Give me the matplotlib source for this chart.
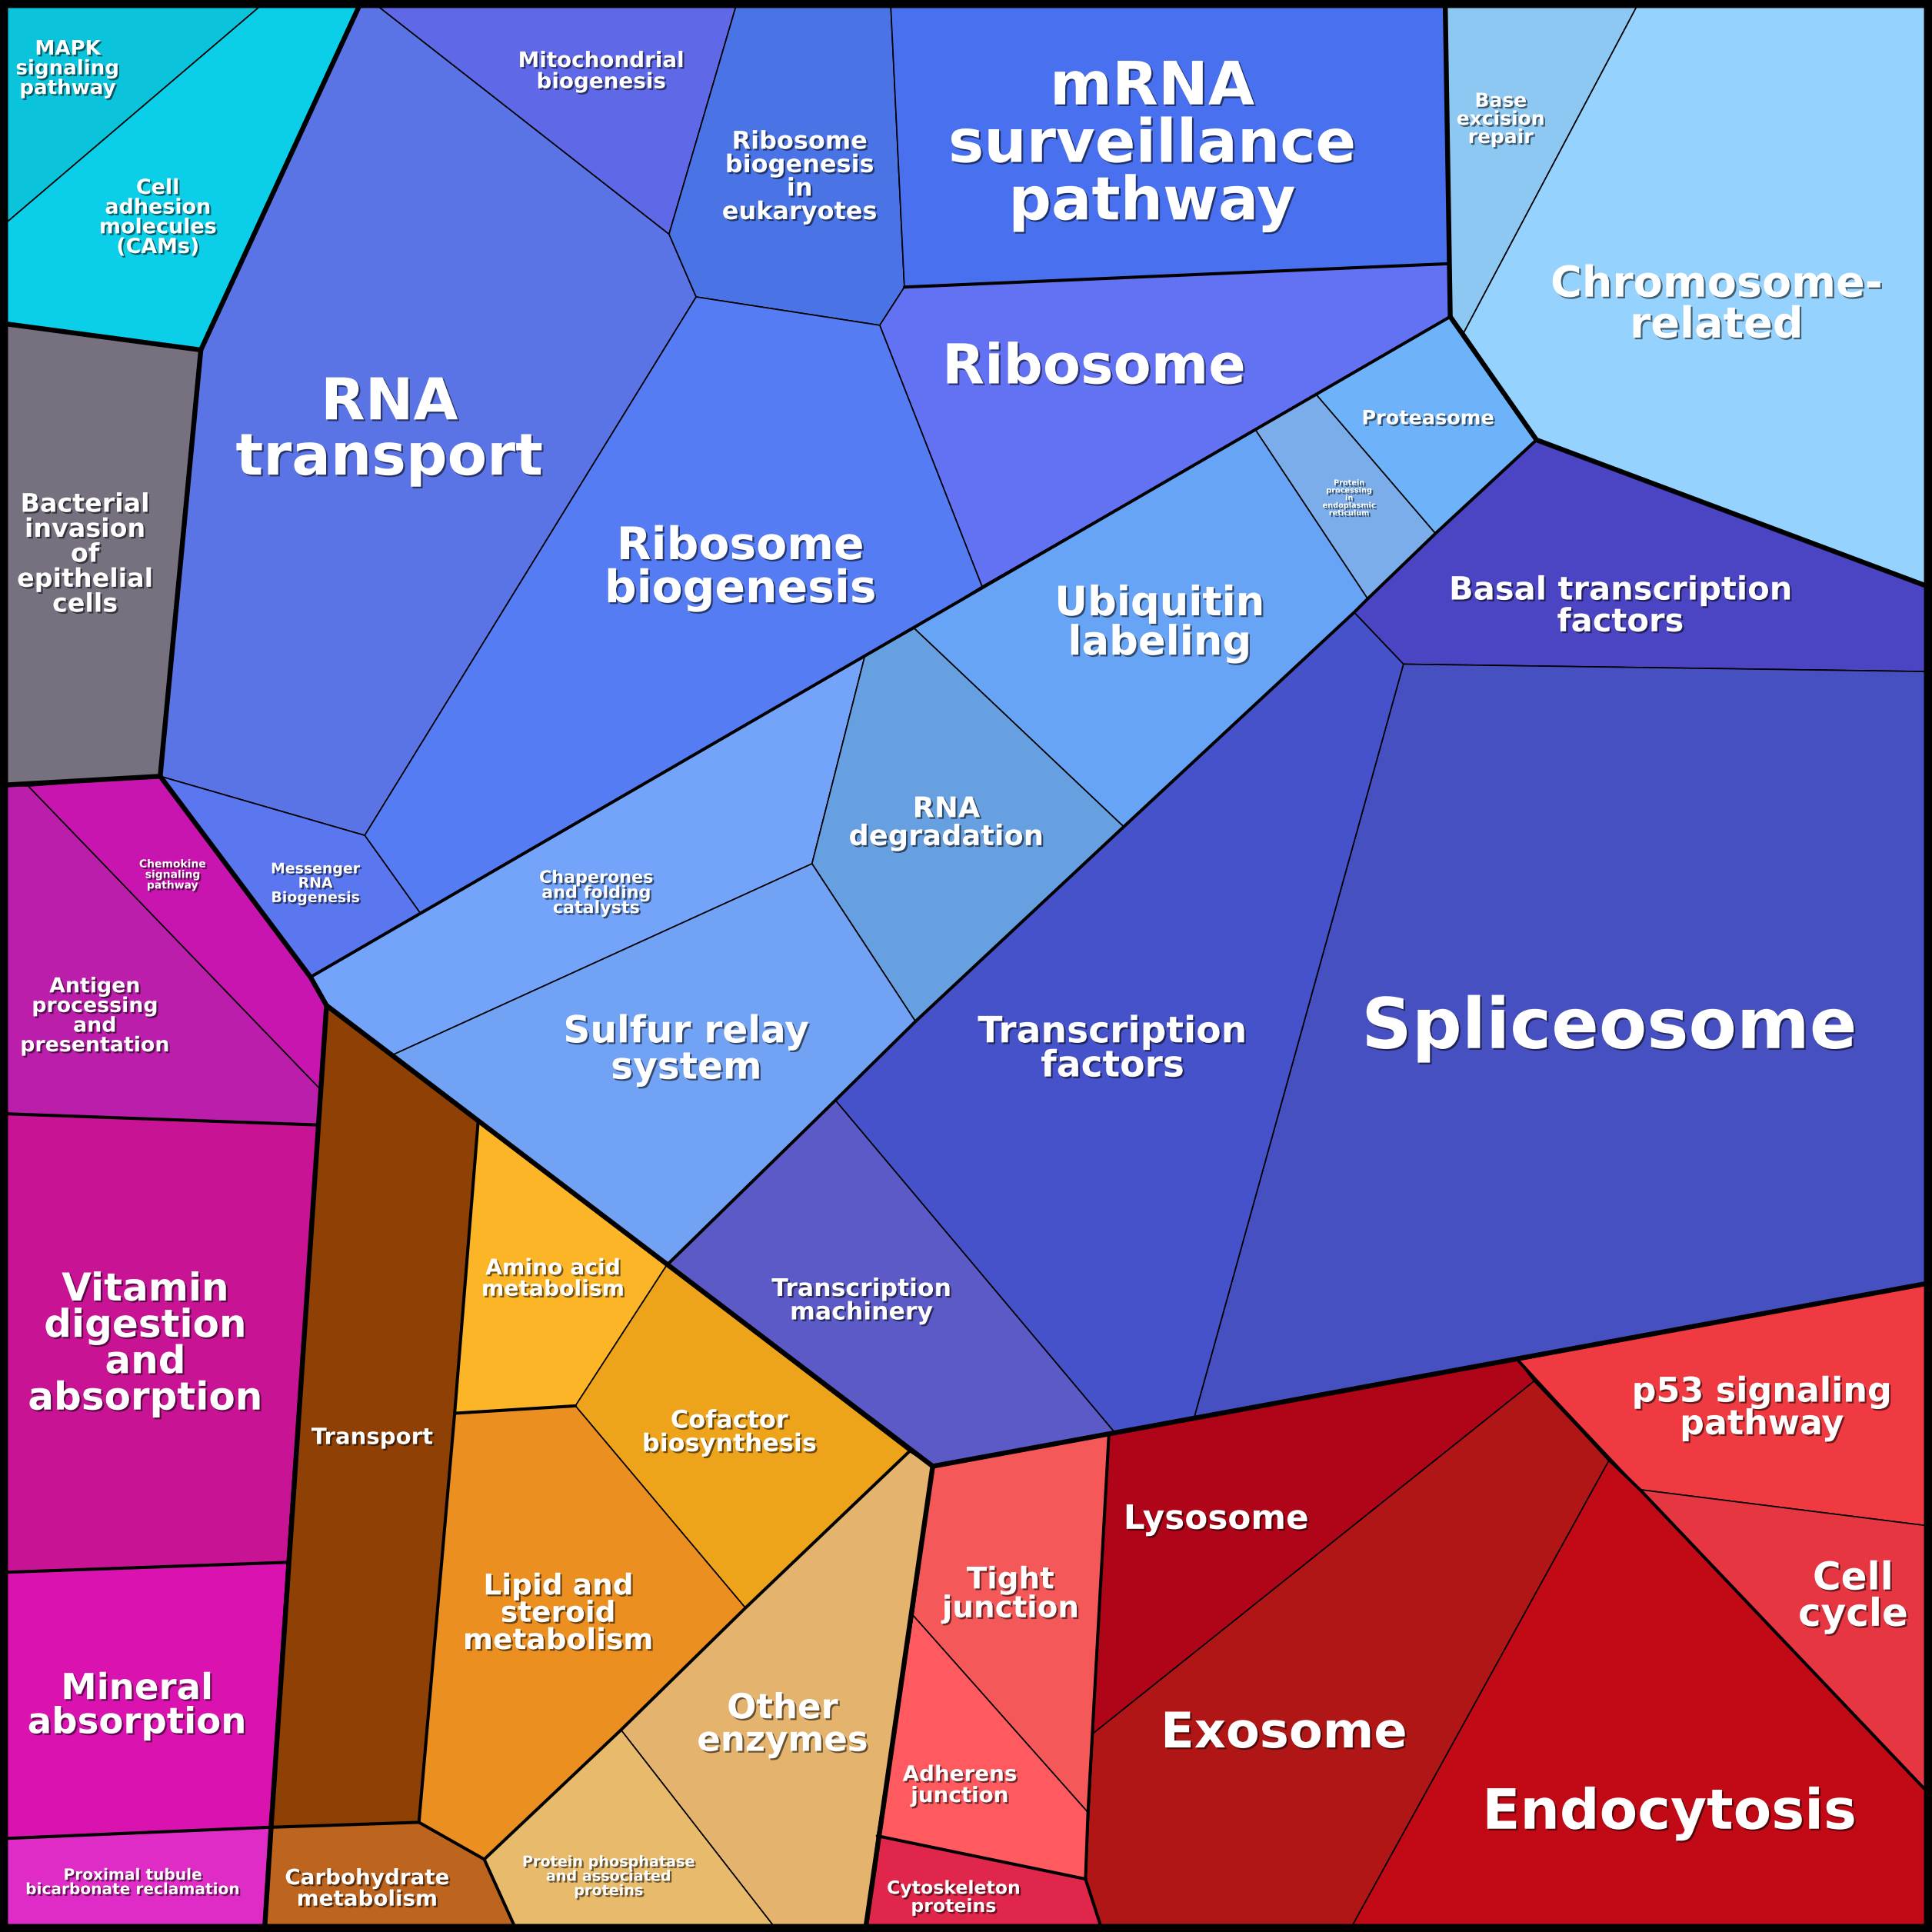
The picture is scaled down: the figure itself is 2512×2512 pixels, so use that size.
import matplotlib
matplotlib.use("Agg")
import matplotlib.pyplot as plt
from matplotlib.patches import Polygon
import matplotlib.patheffects as pe

# Voronoi treemap of pathway categories
# (coords in a 1568 x 1568 frame, y going down)

labels = [
    "MAPK\nsignaling\npathway", "Cell\nadhesion\nmolecules\n(CAMs)",
    "Bacterial\ninvasion\nof\nepithelial\ncells",
    "RNA\ntransport", "Mitochondrial\nbiogenesis", "Ribosome\nbiogenesis\nin\neukaryotes",
    "mRNA\nsurveillance\npathway", "Ribosome", "Ribosome\nbiogenesis", "Messenger\nRNA\nBiogenesis",
    "Base\nexcision\nrepair", "Chromosome-\nrelated",
    "Proteasome", "Protein\nprocessing\nin\nendoplasmic\nreticulum", "Ubiquitin\nlabeling",
    "Chaperones\nand folding\ncatalysts", "RNA\ndegradation", "Sulfur relay\nsystem",
    "Basal transcription\nfactors", "Spliceosome", "Transcription\nfactors", "Transcription\nmachinery",
    "Antigen\nprocessing\nand\npresentation", "Chemokine\nsignaling\npathway",
    "Vitamin\ndigestion\nand\nabsorption", "Mineral\nabsorption",
    "Proximal tubule\nbicarbonate reclamation",
    "Transport", "Carbohydrate\nmetabolism", "Amino acid\nmetabolism", "Cofactor\nbiosynthesis",
    "Lipid and\nsteroid\nmetabolism", "Other\nenzymes", "Protein phosphatase\nand associated\nproteins",
    "Tight\njunction", "Adherens\njunction", "Cytoskeleton\nproteins",
    "Lysosome", "Exosome", "Endocytosis", "p53 signaling\npathway", "Cell\ncycle",
]

colors = [
    "#0bc3db", "#0bcfe8", "#76707f",
    "#5a74e6", "#5f69e8", "#4a74e6", "#4870ef", "#6272f2", "#567cf4", "#5b77f0",
    "#8dc8f2", "#95d3fe",
    "#6eb3fa", "#7aade9", "#68a4f5", "#74a4fa", "#67a0e0", "#72a2f3",
    "#4b45c4", "#4650c0", "#4652ca", "#5b5ac6",
    "#ba1eaa", "#c815b0", "#c81494", "#da13b0", "#e02cc6",
    "#8f4004", "#bd641e", "#fdb528", "#eda31a", "#ea8f20", "#e4b46e", "#e8ba6c",
    "#f45858", "#fe5a60", "#e0264a",
    "#b00418", "#b01616", "#c10a16", "#ee3a40", "#e53642",
]

outlines = [
    [(6, 6), (210, 6), (6, 180)],
    [(210, 6), (291, 6), (163, 284), (6, 263), (6, 180)],
    [(6, 263), (163, 284), (130, 630), (6, 637)],
    [(163, 284), (291, 6), (308, 6), (543, 190), (565, 241), (296, 678), (130, 630)],
    [(308, 6), (597, 6), (543, 190)],
    [(597, 6), (723, 6), (734, 233), (714, 264), (565, 241), (543, 190)],
    [(723, 6), (1173, 6), (1176, 214), (734, 233)],
    [(734, 233), (1176, 214), (1177, 257), (1068, 320), (1019, 349), (797, 476), (714, 264)],
    [(565, 241), (714, 264), (797, 476), (742, 510), (702, 532), (341, 741), (296, 678)],
    [(130, 630), (296, 678), (341, 741), (252, 793)],
    [(1173, 6), (1328, 6), (1188, 270), (1177, 257)],
    [(1328, 6), (1562, 6), (1562, 475), (1247, 357), (1188, 270)],
    [(1068, 320), (1177, 257), (1247, 357), (1165, 433)],
    [(1019, 349), (1068, 320), (1165, 433), (1110, 486)],
    [(742, 510), (797, 476), (1019, 349), (1110, 486), (1099, 497), (912, 671)],
    [(252, 793), (341, 741), (702, 532), (659, 701), (319, 856), (265, 816)],
    [(702, 532), (742, 510), (912, 671), (743, 829), (659, 701)],
    [(319, 856), (659, 701), (743, 829), (678, 893), (541, 1027), (388, 911)],
    [(1110, 486), (1165, 433), (1247, 357), (1562, 475), (1562, 545), (1139, 539), (1099, 497)],
    [(1139, 539), (1562, 545), (1562, 1042), (969, 1151)],
    [(678, 893), (743, 829), (912, 671), (1099, 497), (1139, 539), (969, 1151), (905, 1163)],
    [(541, 1027), (678, 893), (905, 1163), (757, 1190)],
    [(6, 637), (23, 638), (260, 884), (258, 913), (6, 904)],
    [(23, 638), (130, 630), (252, 793), (265, 816), (260, 884)],
    [(6, 904), (258, 913), (233, 1268), (6, 1276)],
    [(6, 1276), (233, 1268), (219, 1483), (6, 1492)],
    [(6, 1492), (219, 1483), (215, 1562), (6, 1562)],
    [(265, 816), (388, 911), (369, 1147), (340, 1479), (220, 1483)],
    [(220, 1483), (340, 1479), (393, 1509), (417, 1562), (215, 1562)],
    [(388, 911), (541, 1027), (467, 1141), (369, 1147)],
    [(541, 1027), (738, 1178), (605, 1305), (467, 1141)],
    [(369, 1147), (467, 1141), (605, 1305), (504, 1404), (393, 1509), (340, 1479)],
    [(738, 1178), (757, 1190), (703, 1562), (627, 1562), (504, 1404), (605, 1305)],
    [(504, 1404), (627, 1562), (417, 1562), (393, 1509)],
    [(757, 1190), (900, 1164), (883, 1471), (741, 1311)],
    [(741, 1311), (883, 1471), (881, 1525), (712, 1490)],
    [(712, 1490), (881, 1525), (893, 1562), (703, 1562)],
    [(900, 1164), (1232, 1104), (1245, 1121), (887, 1407)],
    [(887, 1407), (1245, 1121), (1306, 1185), (1098, 1562), (893, 1562), (881, 1525)],
    [(1306, 1185), (1331, 1209), (1562, 1452), (1562, 1562), (1098, 1562)],
    [(1232, 1104), (1562, 1042), (1562, 1238), (1331, 1209)],
    [(1331, 1209), (1562, 1238), (1562, 1452)],
]

# label centres and font sizes (pt)
label_xy = [
    (55, 56), (128, 177), (69, 450),
    (316, 350), (488, 58), (649, 144), (935, 118), (888, 299), (601, 461), (256, 717),
    (1218, 97), (1393, 248),
    (1159, 340), (1095, 404), (941, 506), (484, 725), (768, 668), (557, 852),
    (1315, 492), (1306, 835), (903, 852), (699, 1056),
    (77, 825), (140, 710), (118, 1091), (111, 1385), (108, 1528),
    (302, 1167), (298, 1533), (449, 1038), (592, 1163), (453, 1310), (635, 1400), (494, 1523),
    (820, 1294), (779, 1449), (774, 1540),
    (987, 1233), (1042, 1407), (1355, 1472), (1430, 1143), (1504, 1296),
]
label_pt = [
    18.8, 19.4, 24,
    54, 20, 23, 56, 51.5, 42, 13.6,
    18, 40,
    18.4, 7, 38, 16, 26.5, 35,
    30, 65.5, 34, 22.7,
    19.3, 10, 36, 33.6, 14.5,
    21, 20, 20.3, 23, 27, 32.4, 13.8,
    28, 20, 17,
    31.5, 46, 52, 32, 36,
]

# group borders: thick = top level, mid = sub groups
thick = [
    [(291, 6), (163, 284), (6, 263)],
    [(163, 284), (130, 630), (6, 637)],
    [(130, 630), (252, 793), (265, 816), (220, 1483), (215, 1562)],
    [(265, 816), (757, 1190), (703, 1562)],
    [(757, 1190), (1562, 1042)],
    [(1173, 6), (1177, 257), (1247, 357), (1562, 475)],
]
mid = [
    [(1177, 257), (252, 793)],
    [(1247, 357), (1165, 433), (1110, 486), (1099, 497), (912, 671), (743, 829), (678, 893), (541, 1027)],
    [(388, 911), (369, 1147), (340, 1479), (220, 1483)],
    [(340, 1479), (393, 1509), (417, 1562)],
    [(738, 1178), (605, 1305), (504, 1404), (393, 1509)],
    [(369, 1147), (467, 1141)],
    [(6, 904), (258, 913)],
    [(6, 1276), (233, 1268)],
    [(6, 1492), (219, 1483)],
    [(900, 1164), (883, 1471), (881, 1525), (893, 1562)],
    [(712, 1490), (881, 1525)],
    [(1232, 1104), (1306, 1185), (1331, 1209), (1562, 1452)],
    [(734, 233), (1176, 214)],
]

fig = plt.figure(figsize=(25.12, 25.12), dpi=100)
fig.patch.set_facecolor("black")
ax = fig.add_axes([0, 0, 1, 1])
ax.set_facecolor("black")
ax.set_xlim(0, 1568)
ax.set_ylim(1568, 0)
ax.axis("off")

for pts, c in zip(outlines, colors):
    ax.add_patch(Polygon(pts, closed=True, facecolor=c, edgecolor="black", linewidth=1.2, joinstyle="miter"))

for line in mid:
    xs, ys = zip(*line)
    ax.plot(xs, ys, color="black", linewidth=2.9, solid_capstyle="round", solid_joinstyle="round")
for line in thick:
    xs, ys = zip(*line)
    ax.plot(xs, ys, color="black", linewidth=4.6, solid_capstyle="round", solid_joinstyle="round")

shadow = [pe.withSimplePatchShadow(offset=(1.6, -1.6), shadow_rgbFace="black", alpha=0.55)]
for txt, (x, y), s in zip(labels, label_xy, label_pt):
    ax.text(x, y, txt, ha="center", va="center", ma="center", fontsize=s,
            fontweight="bold", color="white", linespacing=0.98,
            family="DejaVu Sans", path_effects=shadow)

fig.savefig("out.png", dpi=100, facecolor="black")
